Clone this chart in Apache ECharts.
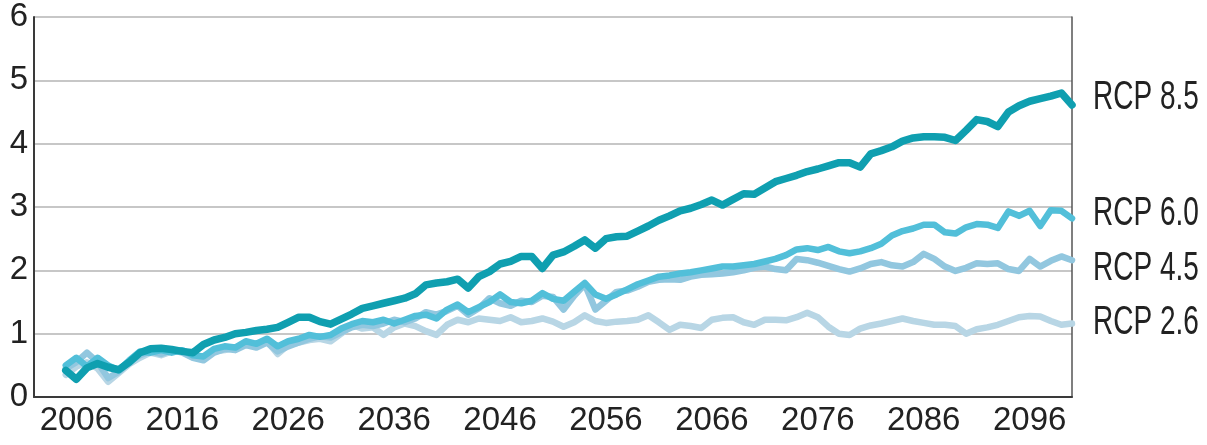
<!DOCTYPE html>
<html>
<head>
<meta charset="utf-8">
<script src="https://cdn.jsdelivr.net/npm/echarts@6/dist/echarts.min.js"></script>
<style>
html,body{margin:0;padding:0;background:#fff;}
#chart{width:1207px;height:445px;}
</style>
</head>
<body>
<div id="chart"></div>
<script>
// ---- data ----
const firstYear = 2005;
const lastYear = 2100;
const xTickLabels = [2006, 2016, 2026, 2036, 2046, 2056, 2066, 2076, 2086, 2096];
const seriesNames = ['RCP 8.5', 'RCP 6.0', 'RCP 4.5', 'RCP 2.6'];

const rcp85 = [
  0.42,0.28,0.46,0.53,0.47,0.43,0.55,0.70,0.76,0.77,
  0.75,0.72,0.70,0.83,0.90,0.94,1.00,1.02,1.05,1.07,
  1.10,1.18,1.26,1.26,1.19,1.15,1.23,1.31,1.40,1.44,
  1.48,1.52,1.56,1.63,1.77,1.80,1.82,1.86,1.72,1.90,
  1.98,2.10,2.14,2.22,2.22,2.03,2.24,2.29,2.38,2.48,
  2.35,2.50,2.53,2.54,2.62,2.70,2.79,2.86,2.94,2.98,
  3.04,3.11,3.03,3.12,3.21,3.20,3.30,3.40,3.45,3.50,
  3.56,3.60,3.65,3.70,3.70,3.63,3.84,3.89,3.95,4.04,
  4.09,4.11,4.11,4.10,4.05,4.21,4.38,4.35,4.27,4.50,
  4.60,4.67,4.71,4.75,4.80,4.61
];
const rcp60 = [
  0.50,0.62,0.48,0.62,0.50,0.42,0.58,0.72,0.70,0.74,
  0.70,0.74,0.66,0.64,0.76,0.80,0.78,0.88,0.84,0.92,
  0.80,0.88,0.92,0.98,0.95,0.98,1.08,1.15,1.20,1.18,
  1.22,1.16,1.22,1.28,1.30,1.24,1.38,1.46,1.34,1.42,
  1.50,1.62,1.50,1.48,1.52,1.64,1.55,1.52,1.66,1.80,
  1.62,1.55,1.62,1.70,1.78,1.84,1.90,1.92,1.95,1.97,
  2.00,2.03,2.06,2.06,2.08,2.10,2.14,2.18,2.24,2.33,
  2.35,2.32,2.37,2.30,2.27,2.30,2.35,2.42,2.55,2.62,
  2.66,2.72,2.72,2.60,2.58,2.68,2.73,2.72,2.67,2.93,
  2.86,2.94,2.70,2.95,2.94,2.82
];
const rcp45 = [
  0.45,0.55,0.70,0.55,0.30,0.40,0.56,0.66,0.72,0.68,
  0.74,0.70,0.62,0.58,0.70,0.76,0.74,0.82,0.78,0.86,
  0.72,0.80,0.86,0.92,0.96,0.94,1.02,1.10,1.14,1.12,
  1.16,1.22,1.18,1.24,1.34,1.30,1.36,1.44,1.30,1.40,
  1.56,1.48,1.44,1.52,1.50,1.60,1.58,1.38,1.60,1.78,
  1.38,1.52,1.66,1.68,1.74,1.82,1.85,1.86,1.85,1.90,
  1.93,1.94,1.95,1.97,2.00,2.04,2.06,2.02,2.00,2.18,
  2.16,2.12,2.07,2.02,1.98,2.03,2.10,2.13,2.08,2.06,
  2.13,2.26,2.18,2.06,1.99,2.04,2.11,2.10,2.11,2.02,
  1.99,2.18,2.06,2.15,2.22,2.16
];
const rcp26 = [
  0.35,0.48,0.55,0.45,0.24,0.38,0.52,0.62,0.70,0.66,
  0.72,0.74,0.66,0.60,0.72,0.74,0.78,0.84,0.80,0.88,
  0.68,0.82,0.86,0.90,0.92,0.88,1.00,1.14,1.08,1.10,
  0.98,1.10,1.16,1.12,1.04,0.98,1.14,1.22,1.18,1.24,
  1.22,1.20,1.26,1.18,1.20,1.24,1.19,1.11,1.18,1.29,
  1.20,1.17,1.19,1.20,1.22,1.29,1.18,1.06,1.14,1.12,
  1.09,1.22,1.25,1.26,1.18,1.14,1.22,1.22,1.21,1.26,
  1.33,1.26,1.11,1.00,0.98,1.08,1.13,1.16,1.20,1.24,
  1.20,1.17,1.14,1.14,1.12,1.00,1.07,1.10,1.14,1.20,
  1.26,1.28,1.27,1.20,1.14,1.16
];

// ---- build ----
const years = [];
for (let y = firstYear; y <= lastYear; y++) years.push(y);
const pairs = arr => years.map((y, i) => [y, arr[i]]);

const FONT = '"Liberation Sans", Arial, sans-serif';
const colors = ['#0f9fb0', '#52bfd9', '#92c7df', '#b8d6e5'];
const widths = [7.5, 6.5, 6.5, 6.5];
const seriesData = [rcp85, rcp60, rcp45, rcp26];

const chart = echarts.init(document.getElementById('chart'), null, {renderer: 'canvas'});

const series = [];
for (let k = seriesData.length - 1; k >= 0; k--) {
  series.push({
    name: seriesNames[k],
    type: 'line',
    data: pairs(seriesData[k]),
    symbol: 'none',
    smooth: false,
    lineStyle: {color: colors[k], width: widths[k], join: 'round', cap: 'round'},
    z: 10 + (seriesData.length - k)
  });
}

const labelCenters = [98, 214, 269, 323];

chart.setOption({
  animation: false,
  backgroundColor: '#ffffff',
  grid: {left: 34, right: 135, top: 17, bottom: 48, containLabel: false},
  xAxis: {
    type: 'value',
    min: 2002,
    max: 2100,
    axisLine: {show: true, lineStyle: {color: '#3a3a3a', width: 2}},
    axisTick: {show: false},
    splitLine: {show: false},
    axisLabel: {
      customValues: xTickLabels,
      color: '#222',
      fontFamily: FONT,
      fontSize: 33,
      margin: 7,
      formatter: v => String(v)
    }
  },
  yAxis: [{
    type: 'value',
    min: 0,
    max: 6,
    interval: 1,
    axisLine: {show: true, lineStyle: {color: '#3a3a3a', width: 2}},
    axisTick: {show: false},
    splitLine: {show: true, lineStyle: {color: '#b4b4b4', width: 1.5}},
    axisLabel: {color: '#222', fontFamily: FONT, fontSize: 33, margin: 6}
  }, {
    type: 'value',
    position: 'right',
    min: 0,
    max: 6,
    interval: 1,
    axisLine: {show: true, lineStyle: {color: '#555', width: 1.5}},
    axisTick: {show: false},
    axisLabel: {show: false},
    splitLine: {show: false}
  }],
  series: series,
  graphic: seriesNames.map((n, i) => ({
    type: 'text',
    x: 1093,
    y: labelCenters[i],
    scaleX: 0.7,
    style: {text: n, fill: '#222', font: '40px ' + FONT, verticalAlign: 'middle', align: 'left'}
  }))
});
</script>
</body>
</html>
